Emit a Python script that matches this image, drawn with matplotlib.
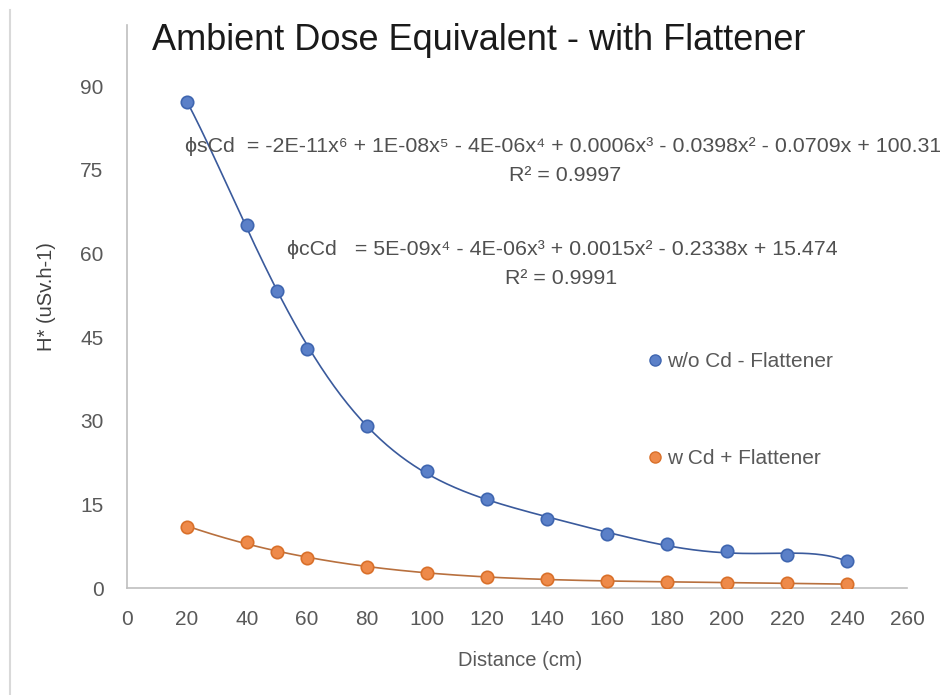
import numpy as np
import matplotlib
matplotlib.use("Agg")
import matplotlib.pyplot as plt
from matplotlib.lines import Line2D

plt.rcParams['font.family'] = ['Liberation Sans', 'DejaVu Sans']

# Data
distance = [20, 40, 50, 60, 80, 100, 120, 140, 160, 180, 200, 220, 240]
wo_cd = [87.1, 65.2, 53.2, 42.9, 29.1, 21.0, 16.0, 12.4, 9.7, 7.9, 6.6, 5.9, 4.9]
w_cd = [11.0, 8.3, 6.5, 5.4, 3.8, 2.7, 2.0, 1.6, 1.3, 1.1, 0.9, 0.9, 0.7]
series_labels = ["w/o Cd - Flattener", "w Cd + Flattener"]
x_ticks = list(range(0, 261, 20))
y_ticks = list(range(0, 91, 15))

blue_face = "#5B80C8"
blue_edge = "#3F66B0"
orange_face = "#EE8A4A"
orange_edge = "#D9702A"
tick_color = "#595959"

W, H = 940, 695
fig = plt.figure(figsize=(W / 100, H / 100), dpi=100)
ax = fig.add_axes([127 / W, 1 - 588 / H, (907 - 127) / W, (588 - 25) / H])

# trend lines (polynomial fits of the data)
xs = np.linspace(min(distance), max(distance), 400)
p6 = np.polyfit(distance, wo_cd, 6)
p4 = np.polyfit(distance, w_cd, 4)
ax.plot(xs, np.polyval(p6, xs), color="#3A5A9C", lw=1.2, zorder=2)
ax.plot(xs, np.polyval(p4, xs), color="#B8703E", lw=1.2, zorder=2)

ax.scatter(distance, wo_cd, s=80, facecolor=blue_face, edgecolor=blue_edge, linewidth=1.2, zorder=3)
ax.scatter(distance, w_cd, s=80, facecolor=orange_face, edgecolor=orange_edge, linewidth=1.2, zorder=3)

ax.set_xlim(0, 260)
ax.set_ylim(0, 101)
ax.set_xticks(x_ticks)
ax.set_yticks(y_ticks)
ax.tick_params(length=0, labelsize=15, colors=tick_color)
ax.tick_params(axis="x", pad=16)
ax.tick_params(axis="y", pad=17)
for s in ["top", "right"]:
    ax.spines[s].set_visible(False)
for s in ["left", "bottom"]:
    ax.spines[s].set_color("#BFBFBF")
    ax.spines[s].set_linewidth(1.2)

fig.text(520 / W, 1 - 660 / H, "Distance (cm)", fontsize=14.5, color=tick_color,
         ha="center", va="center")
fig.text(47 / W, 1 - 297 / H, "H* (uSv.h-1)", rotation=90, fontsize=14.5,
         color="#404040", ha="center", va="center")

fig.text(479 / W, 1 - 41 / H, "Ambient Dose Equivalent - with Flattener",
         fontsize=26, color="#1a1a1a", ha="center", va="center")

eq_color = "#505050"
eq_size = 15.4
ax.text(19.3, 79.2, "ϕsCd  = -2E-11x⁶ + 1E-08x⁵ - 4E-06x⁴ + 0.0006x³ - 0.0398x² - 0.0709x + 100.31",
        fontsize=eq_size, color=eq_color, va="center", ha="left", clip_on=False)
ax.text(146, 74.0, "R² = 0.9997", fontsize=eq_size, color=eq_color, va="center", ha="center")
ax.text(53.3, 60.7, "ϕcCd   = 5E-09x⁴ - 4E-06x³ + 0.0015x² - 0.2338x + 15.474",
        fontsize=eq_size, color=eq_color, va="center", ha="left")
ax.text(144.7, 55.5, "R² = 0.9991", fontsize=eq_size, color=eq_color, va="center", ha="center")

handles = [
    Line2D([], [], ls="none", marker="o", ms=8, mfc=blue_face, mec=blue_edge),
    Line2D([], [], ls="none", marker="o", ms=8, mfc=orange_face, mec=orange_edge),
]
leg = ax.legend(handles, series_labels, frameon=False, fontsize=15,
                loc="upper left", bbox_to_anchor=((640 - 127) / 780, (588 - 344) / 563),
                labelspacing=3.75, handlelength=0.6, handletextpad=0.3, borderaxespad=0)
for t in leg.get_texts():
    t.set_color(tick_color)

fig.add_artist(Line2D([10 / W, 10 / W], [0, 1 - 10 / H], color="#D9D9D9", lw=1.5))

fig.savefig("out.png", dpi=100, facecolor="white")
